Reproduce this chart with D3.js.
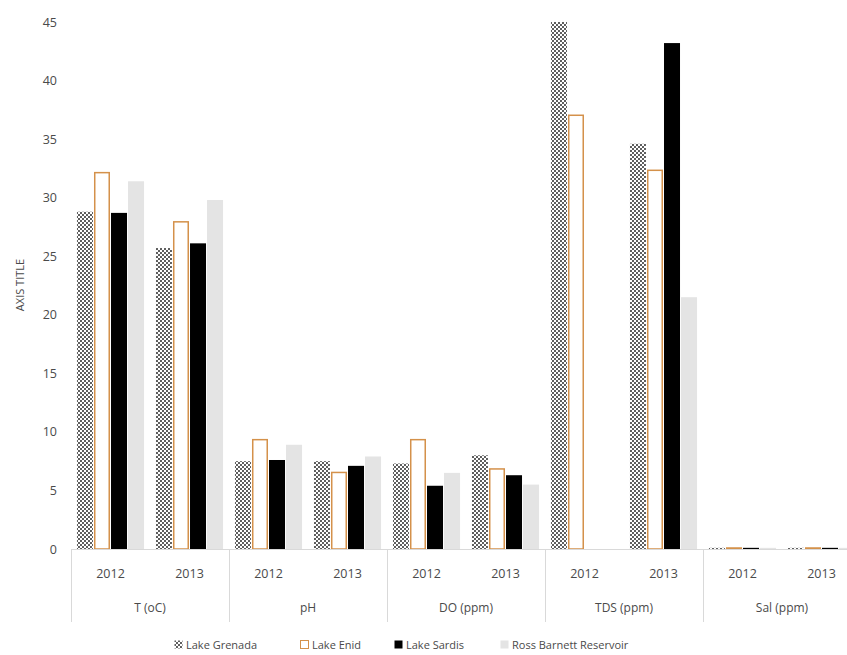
<!DOCTYPE html>
<html>
<head>
<meta charset="utf-8">
<script src="https://cdn.jsdelivr.net/npm/d3@7"></script>
<style>
  html, body { margin: 0; padding: 0; background: #fff; }
  svg { display: block; font-family: "Open Sans", "Liberation Sans", sans-serif; }
</style>
</head>
<body>
<svg id="chart" width="847" height="655"></svg>
<script>
// Water-quality parameters per lake, 2012 and 2013
const indicators = ["T (oC)", "pH", "DO (ppm)", "TDS (ppm)", "Sal (ppm)"];
const years = ["2012", "2013"];
const series = ["Lake Grenada", "Lake Enid", "Lake Sardis", "Ross Barnett Reservoir"];

// values in order: T 2012, T 2013, pH 2012, pH 2013, DO 2012, DO 2013, TDS 2012, TDS 2013, Sal 2012, Sal 2013
const lakeGrenada = [28.8, 25.7, 7.5, 7.5, 7.3, 8.0, 45.0, 34.6, 0.1, 0.1];
const lakeEnid    = [32.2, 28.0, 9.4, 6.6, 9.4, 6.9, 37.1, 32.4, 0.15, 0.15];
const lakeSardis  = [28.7, 26.1, 7.6, 7.1, 5.4, 6.3, 0.0, 43.2, 0.1, 0.1];
const rossBarnett = [31.4, 29.8, 8.9, 7.9, 6.5, 5.5, 0.0, 21.5, 0.1, 0.1];

const yTicks = [0, 5, 10, 15, 20, 25, 30, 35, 40, 45];

const seriesValues = [lakeGrenada, lakeEnid, lakeSardis, rossBarnett];
const categories = [];
indicators.forEach(ind => years.forEach(yr => categories.push(ind + "|" + yr)));

const svg = d3.select("#chart");
const textColor = "#4a4a4a";
const lineColor = "#d9d9d9";

const plotLeft = 71, catWidth = 79;
const plotRight = plotLeft + catWidth * categories.length;
const y0 = 549, yTop = 22;

const x = d3.scaleBand().domain(categories).range([plotLeft, plotRight]).padding(0);
const xs = d3.scaleBand().domain(series).range([0, x.bandwidth()]).paddingInner(0.06).paddingOuter(0.35);
const y = d3.scaleLinear().domain([0, 45]).range([y0, yTop]);

// staggered dot fill for Lake Grenada
const defs = svg.append("defs");
const pat = defs.append("pattern").attr("id", "dots")
  .attr("patternUnits", "userSpaceOnUse").attr("width", 4).attr("height", 4);
pat.append("rect").attr("width", 4).attr("height", 4).attr("fill", "#ffffff");
pat.append("circle").attr("cx", 1).attr("cy", 1).attr("r", 0.95).attr("fill", "#1a1a1a");
pat.append("circle").attr("cx", 3).attr("cy", 3).attr("r", 0.95).attr("fill", "#1a1a1a");

const styles = [
  { fill: "url(#dots)", stroke: "none", sw: 0 },
  { fill: "#ffffff", stroke: "#d4914a", sw: 1.5 },
  { fill: "#000000", stroke: "none", sw: 0 },
  { fill: "#e4e4e4", stroke: "none", sw: 0 }
];

// y axis labels (no axis line)
const yAxis = d3.axisLeft(y).tickValues(yTicks).tickSize(0).tickPadding(0);
const gy = svg.append("g").attr("transform", "translate(57,0)").call(yAxis);
gy.select(".domain").remove();
gy.selectAll("text").attr("fill", textColor).attr("font-size", 12.5)
  .attr("font-family", "'Open Sans', sans-serif");

svg.append("text")
  .attr("transform", "translate(24,285) rotate(-90)")
  .attr("text-anchor", "middle")
  .attr("fill", textColor).attr("font-size", 11)
  .text("AXIS TITLE");

// bars
const bars = svg.append("g");
seriesValues.forEach((vals, si) => {
  const st = styles[si];
  bars.selectAll(null).data(vals).enter().append("rect")
    .attr("x", (d, i) => x(categories[i]) + xs(series[si]) + st.sw / 2)
    .attr("width", xs.bandwidth() - st.sw)
    .attr("y", d => y(d) + st.sw / 2)
    .attr("height", d => Math.max(0, y0 - y(d) - st.sw / 2))
    .attr("fill", st.fill)
    .attr("stroke", st.stroke)
    .attr("stroke-width", st.sw)
    .attr("display", d => d > 0 ? null : "none");
});

// baseline
svg.append("line").attr("x1", plotLeft).attr("x2", plotRight)
  .attr("y1", y0 + 0.5).attr("y2", y0 + 0.5)
  .attr("stroke", lineColor).attr("stroke-width", 1);

// group separators
const groupEdges = d3.range(indicators.length + 1).map(i => plotLeft + i * 2 * catWidth);
svg.selectAll(null).data(groupEdges).enter().append("line")
  .attr("x1", d => Math.round(d) + 0.5).attr("x2", d => Math.round(d) + 0.5)
  .attr("y1", y0).attr("y2", 622)
  .attr("stroke", lineColor).attr("stroke-width", 1);

// year labels
svg.selectAll(null).data(categories).enter().append("text")
  .attr("x", d => x(d) + x.bandwidth() / 2)
  .attr("y", 578)
  .attr("text-anchor", "middle").attr("fill", textColor).attr("font-size", 12.5)
  .text(d => d.split("|")[1]);

// indicator labels
svg.selectAll(null).data(indicators).enter().append("text")
  .attr("x", (d, i) => plotLeft + (i + 0.5) * 2 * catWidth)
  .attr("y", 612)
  .attr("text-anchor", "middle").attr("fill", textColor).attr("font-size", 12)
  .text(d => d);

// legend
const legendX = [174, 300, 394, 500];
const lg = svg.append("g");
series.forEach((s, i) => {
  const g = lg.append("g").attr("transform", `translate(${legendX[i]},640)`);
  const st = styles[i];
  g.append("rect").attr("x", 0.5).attr("y", 0.5).attr("width", 8).attr("height", 8)
    .attr("fill", st.fill).attr("stroke", st.stroke).attr("stroke-width", st.sw ? 1 : 0);
  g.append("text").attr("x", 12).attr("y", 8.5)
    .attr("fill", textColor).attr("font-size", 11)
    .text(s);
});
</script>
</body>
</html>
